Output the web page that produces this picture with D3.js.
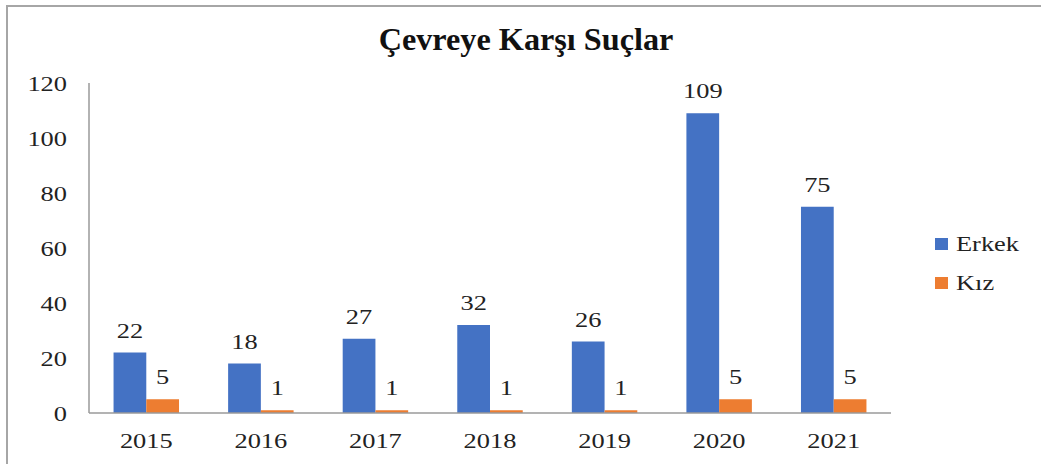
<!DOCTYPE html>
<html>
  <head>
    <meta charset="utf-8">
    <title>Çevreye Karşı Suçlar</title>
    <style>
body {
  margin: 0;
  background: #fff;
}
svg text {
  font-family: 'Liberation Serif', 'DejaVu Serif', serif;
  fill: #222;
}
    </style>
  </head>
  <body>
    <div id="chart"></div>
    <script src="https://cdn.jsdelivr.net/npm/d3@7/dist/d3.min.js"></script>
    <script>

    var years = ['2015', '2016', '2017', '2018', '2019', '2020', '2021'];
    var erkek = [22, 18, 27, 32, 26, 109, 75];
    var kiz = [5, 1, 1, 1, 1, 5, 5];
    var seriesNames = ['Erkek', 'Kız'];
    var seriesColors = ['#4472C4', '#ED7D31'];
    var yTicks = [0, 20, 40, 60, 80, 100, 120];

    var width = 1041,
        height = 464,
        stretch = 1.2; // text in the picture is stretched sideways

    var svg = d3.select('#chart').append('svg')
        .attr('width', width)
        .attr('height', height)
        .attr('font-family', "'Liberation Serif', 'DejaVu Serif', serif");

    // outer frame, only top and left visible
    svg.append('rect')
        .attr('x', 7)
        .attr('y', 6)
        .attr('width', width + 20)
        .attr('height', height + 20)
        .style('fill', 'none')
        .style('stroke', '#a6a6a6')
        .style('stroke-width', 2);

    svg.append('text')
        .attr('transform', 'translate(526,50) scale(1.04,1)')
        .attr('text-anchor', 'middle')
        .style('font-size', '31px')
        .style('font-weight', 'bold')
        .style('fill', '#111')
        .text('Çevreye Karşı Suçlar');

    var x0 = d3.scaleBand()
        .domain(years)
        .range([89, 891]);

    var x1 = d3.scaleBand()
        .domain(seriesNames)
        .range([0, x0.bandwidth()])
        .paddingOuter(0.75)
        .paddingInner(0);

    var y = d3.scaleLinear()
        .domain([0, 120])
        .range([413, 83]);

    // y tick labels (no tick marks, no grid)
    svg.selectAll('.ytick')
        .data(yTicks)
        .enter().append('text')
        .attr('class', 'ytick')
        .attr('transform', function(d) { return 'translate(67,' + (y(d) + 7.5) + ') scale(' + stretch + ',1)'; })
        .attr('text-anchor', 'end')
        .style('font-size', '22px')
        .text(function(d) { return d; });

    var rows = years.map(function(yr, i) {
      return { year: yr, values: [erkek[i], kiz[i]] };
    });

    var groups = svg.selectAll('.year')
        .data(rows)
        .enter().append('g')
        .attr('class', 'year')
        .attr('transform', function(d) { return 'translate(' + x0(d.year) + ',0)'; });

    groups.selectAll('rect')
        .data(function(d) { return d.values.map(function(v, j) { return { name: seriesNames[j], value: v, color: seriesColors[j] }; }); })
        .enter().append('rect')
        .attr('x', function(d) { return x1(d.name); })
        .attr('width', x1.bandwidth())
        .attr('y', function(d) { return y(d.value); })
        .attr('height', function(d) { return y(0) - y(d.value); })
        .style('fill', function(d) { return d.color; });

    groups.selectAll('.lbl')
        .data(function(d) { return d.values.map(function(v, j) { return { name: seriesNames[j], value: v }; }); })
        .enter().append('text')
        .attr('class', 'lbl')
        .attr('transform', function(d) {
          return 'translate(' + (x1(d.name) + x1.bandwidth() / 2) + ',' + (y(d.value) - 15) + ') scale(' + stretch + ',1)';
        })
        .attr('text-anchor', 'middle')
        .style('font-size', '22px')
        .text(function(d) { return d.value; });

    // axes lines
    svg.append('line')
        .attr('x1', 89).attr('x2', 89)
        .attr('y1', y(120)).attr('y2', y(0))
        .style('stroke', '#9a9a9a')
        .style('stroke-width', 1.5);
    svg.append('line')
        .attr('x1', 89).attr('x2', 891)
        .attr('y1', y(0)).attr('y2', y(0))
        .style('stroke', '#9a9a9a')
        .style('stroke-width', 1.5);

    // x labels
    svg.selectAll('.xtick')
        .data(years)
        .enter().append('text')
        .attr('class', 'xtick')
        .attr('transform', function(d) { return 'translate(' + (x0(d) + x0.bandwidth() / 2) + ',448) scale(' + stretch + ',1)'; })
        .attr('text-anchor', 'middle')
        .style('font-size', '22px')
        .text(function(d) { return d; });

    // legend
    var legend = svg.selectAll('.legend')
        .data(seriesNames)
        .enter().append('g')
        .attr('class', 'legend')
        .attr('transform', function(d, i) { return 'translate(935,' + (238 + i * 39) + ')'; });
    legend.append('rect')
        .attr('width', 13)
        .attr('height', 12)
        .style('fill', function(d, i) { return seriesColors[i]; });
    legend.append('text')
        .attr('transform', 'translate(21,13) scale(' + stretch + ',1)')
        .style('font-size', '22px')
        .text(function(d) { return d; });

    </script>
  </body>
</html>
